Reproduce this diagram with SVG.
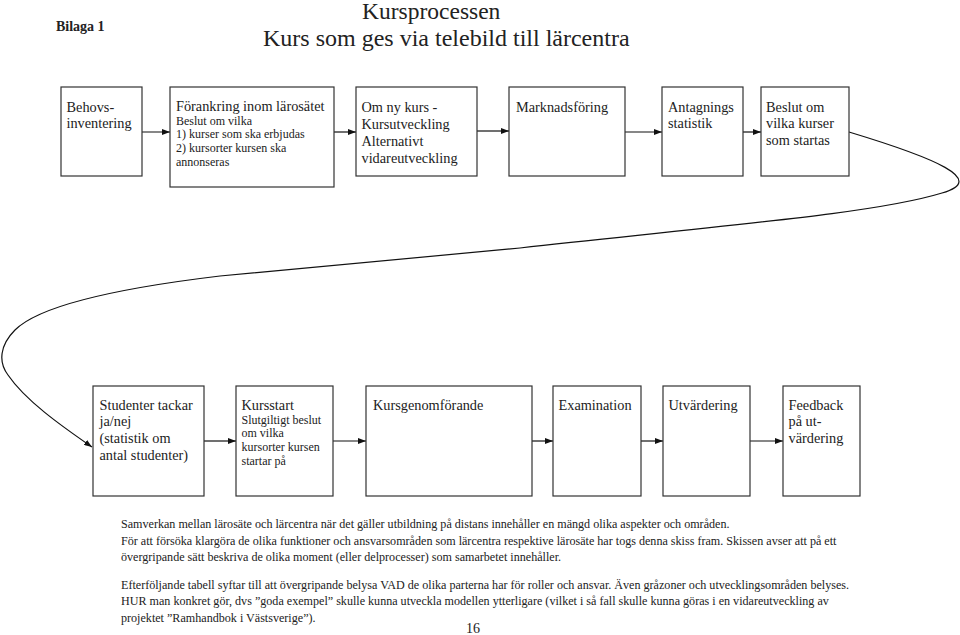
<svg xmlns="http://www.w3.org/2000/svg" width="960" height="635" viewBox="0 0 960 635">
<style>
text{font-family:"Liberation Serif","Times New Roman",serif;fill:#222}
.b{font-size:14.3px}
.s{font-size:12px}
.p{font-size:12.1px}
.box{fill:#fff;stroke:#333;stroke-width:1.2}
.ln{fill:none;stroke:#111;stroke-width:1.2}
</style>
<defs>
<marker id="ah" markerWidth="8" markerHeight="6" refX="8" refY="3" orient="auto" markerUnits="userSpaceOnUse">
<path d="M0,0 L8,3 L0,6 z" fill="#111"/>
</marker>
</defs>
<rect width="960" height="635" fill="#fff"/>
<text x="56" y="31" style="font-size:14px;font-weight:bold">Bilaga 1</text>
<text x="362" y="18.5" style="font-size:23.5px">Kursprocessen</text>
<text x="263" y="45.5" style="font-size:24px">Kurs som ges via telebild till lärcentra</text>

<g id="connectors">
<line class="ln" x1="137" y1="132" x2="170" y2="132" marker-end="url(#ah)"/>
<line class="ln" x1="334" y1="132" x2="356" y2="132" marker-end="url(#ah)"/>
<line class="ln" x1="477" y1="131" x2="509" y2="131" marker-end="url(#ah)"/>
<line class="ln" x1="625" y1="132" x2="662" y2="132" marker-end="url(#ah)"/>
<line class="ln" x1="743" y1="132" x2="761" y2="132" marker-end="url(#ah)"/>
<path class="ln" d="M849,132 C935,158 988,180 942,193 C880,212 760,222 520,248 L220,276 C120,288 40,305 15,330 C0,345 -2,362 8,375 C25,400 60,425 92,447" marker-end="url(#ah)"/>
<line class="ln" x1="204" y1="441" x2="236" y2="441" marker-end="url(#ah)"/>
<line class="ln" x1="333" y1="441" x2="366" y2="441" marker-end="url(#ah)"/>
<line class="ln" x1="532" y1="441" x2="553" y2="441" marker-end="url(#ah)"/>
<line class="ln" x1="641" y1="441" x2="663" y2="441" marker-end="url(#ah)"/>
<line class="ln" x1="750" y1="441" x2="783" y2="441" marker-end="url(#ah)"/>
</g>

<g id="n1"><rect class="box" x="61" y="87" width="81" height="89"/>
<text class="b" x="66.5" y="111.5">Behovs-</text><text class="b" x="66.5" y="128">inventering</text></g>
<g id="n2"><rect class="box" x="170" y="87" width="164" height="100"/>
<text class="b" x="176" y="111">Förankring inom lärosätet</text>
<text class="s" x="176" y="124.7">Beslut om vilka</text>
<text class="s" x="176" y="138.4">1) kurser som ska erbjudas</text>
<text class="s" x="176" y="152.1">2) kursorter kursen ska</text>
<text class="s" x="176" y="165.8">annonseras</text></g>
<g id="n3"><rect class="box" x="356" y="87" width="121" height="89"/>
<text class="b" x="361.5" y="111.5">Om ny kurs -</text>
<text class="b" x="361.5" y="128.5">Kursutveckling</text>
<text class="b" x="361.5" y="145.5">Alternativt</text>
<text class="b" x="361.5" y="162.5">vidareutveckling</text></g>
<g id="n4"><rect class="box" x="509" y="87" width="116" height="89"/>
<text class="b" x="516" y="111.5">Marknadsföring</text></g>
<g id="n5"><rect class="box" x="662" y="87" width="81" height="89"/>
<text class="b" x="668" y="111.5">Antagnings</text><text class="b" x="668" y="128">statistik</text></g>
<g id="n6"><rect class="box" x="761" y="87" width="88" height="89"/>
<text class="b" x="766" y="111.5">Beslut om</text><text class="b" x="766" y="128">vilka kurser</text><text class="b" x="766" y="144.5">som startas</text></g>

<g id="n7"><rect class="box" x="93" y="386" width="111" height="110"/>
<text class="b" x="99.5" y="409.5">Studenter tackar</text>
<text class="b" x="99.5" y="426.3">ja/nej</text>
<text class="b" x="99.5" y="443">(statistik om</text>
<text class="b" x="99.5" y="459.8">antal studenter)</text></g>
<g id="n8"><rect class="box" x="236" y="386" width="97" height="110"/>
<text class="b" x="241.5" y="409.5">Kursstart</text>
<text class="s" x="241.5" y="423.5">Slutgiltigt beslut</text>
<text class="s" x="241.5" y="437.2">om vilka</text>
<text class="s" x="241.5" y="450.9">kursorter kursen</text>
<text class="s" x="241.5" y="464.6">startar på</text></g>
<g id="n9"><rect class="box" x="366" y="386" width="166" height="110"/>
<text class="b" x="373" y="409.5">Kursgenomförande</text></g>
<g id="n10"><rect class="box" x="553" y="386" width="88" height="110"/>
<text class="b" x="558.5" y="409.5">Examination</text></g>
<g id="n11"><rect class="box" x="663" y="386" width="87" height="110"/>
<text class="b" x="668.5" y="409.5">Utvärdering</text></g>
<g id="n12"><rect class="box" x="783" y="386" width="77" height="110"/>
<text class="b" x="788.5" y="409.5">Feedback</text>
<text class="b" x="788.5" y="426.3">på ut-</text>
<text class="b" x="788.5" y="443">värdering</text></g>

<g id="text" xml:space="preserve">
<text class="p" x="121" y="527.5">Samverkan mellan lärosäte och lärcentra när det gäller utbildning på distans innehåller en mängd olika aspekter och områden.</text>
<text class="p" x="121" y="544.5">För att försöka klargöra de olika funktioner och ansvarsområden som lärcentra respektive lärosäte har togs denna skiss fram.  Skissen avser att på ett</text>
<text class="p" x="121" y="561">övergripande sätt beskriva de olika moment (eller delprocesser) som samarbetet innehåller.</text>
<text class="p" x="121" y="588.5">Efterföljande tabell syftar till att övergripande belysa VAD de olika parterna har för roller och ansvar.  Även gråzoner och utvecklingsområden belyses.</text>
<text class="p" x="121" y="605">HUR man konkret gör, dvs ”goda exempel” skulle kunna utveckla modellen ytterligare (vilket i så fall skulle kunna göras i en vidareutveckling av</text>
<text class="p" x="121" y="621.5">projektet ”Ramhandbok i Västsverige”).</text>
<text x="466" y="633" style="font-size:14px">16</text>
</g>
</svg>
